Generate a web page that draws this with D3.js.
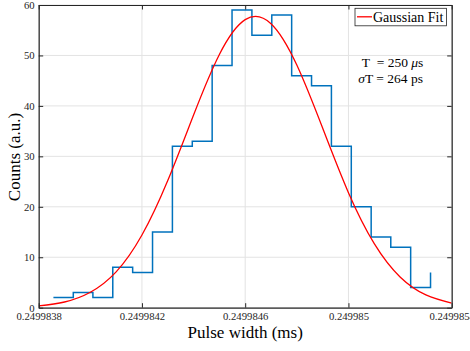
<!DOCTYPE html>
<html>
<head>
<meta charset="utf-8">
<script src="https://cdn.jsdelivr.net/npm/d3@7"></script>
<style>
  body { margin: 0; background: #fff; }
  svg text { font-family: "Liberation Serif", "Times New Roman", serif; }
</style>
</head>
<body>
<div id="my_dataviz"></div>
<script>
// histogram (stairs) points: bin start positions (ms) and counts
const binX = [0.249983857, 0.249983934, 0.249984010, 0.249984087, 0.249984164,
  0.249984241, 0.249984318, 0.249984395, 0.249984472, 0.249984549,
  0.249984626, 0.249984703, 0.249984780, 0.249984857, 0.249984934,
  0.249985011, 0.249985088, 0.249985164, 0.249985241, 0.249985318];
const counts = [2, 3, 2, 8, 7, 15, 32, 33, 48, 59, 54, 58, 46, 44, 32, 20, 14, 12, 4, 7];

// gaussian fit curve
const fitX = [0.2499838, 0.2499839, 0.2499840, 0.2499841, 0.2499842, 0.2499843,
  0.2499844, 0.2499845, 0.2499846, 0.2499847, 0.2499848, 0.2499849,
  0.2499850, 0.2499851, 0.2499852, 0.2499853, 0.2499854];
const fitY = [0.37, 1.13, 3.06, 7.1, 14.4, 25.2, 38.2, 50.2, 57.1, 56.3, 48.1,
  35.6, 22.8, 12.7, 6.1, 2.54, 0.92];

// ticks
const xTicks = [0.2499838, 0.2499842, 0.2499846, 0.2499850, 0.2499854];
const xTickLabels = ["0.2499838", "0.2499842", "0.2499846", "0.249985", "0.2499854"];
const yTicks = [0, 10, 20, 30, 40, 50, 60];

// set the dimensions and margins of the graph
const margin = { top: 5, right: 18.3, bottom: 43.3, left: 38.7 },
  width = 470 - margin.left - margin.right,
  height = 351 - margin.top - margin.bottom;

const serif = '"Liberation Serif", "Times New Roman", serif';

const svg = d3.select("#my_dataviz")
  .append("svg")
  .attr("width", 470)
  .attr("height", 351)
  .attr("font-family", serif)
  .append("g")
  .attr("transform", `translate(${margin.left},${margin.top})`);

const x = d3.scaleLinear().domain([0.2499838, 0.2499854]).range([0, width]);
const y = d3.scaleLinear().domain([0, 60]).range([height, 0]);

// grid
svg.append("g")
  .selectAll("line")
  .data(xTicks)
  .join("line")
  .attr("x1", (d) => x(d)).attr("x2", (d) => x(d))
  .attr("y1", 0).attr("y2", height)
  .attr("stroke", "#e3e3e3").attr("stroke-width", 1);
svg.append("g")
  .selectAll("line")
  .data(yTicks)
  .join("line")
  .attr("x1", 0).attr("x2", width)
  .attr("y1", (d) => y(d)).attr("y2", (d) => y(d))
  .attr("stroke", "#e3e3e3").attr("stroke-width", 1);

svg.append("defs").append("clipPath").attr("id", "clip")
  .append("rect").attr("width", width).attr("height", height);

// stairs
const stairPts = [];
binX.forEach((d, i) => {
  stairPts.push([d, counts[i]]);
  if (i < binX.length - 1) stairPts.push([binX[i + 1], counts[i]]);
});
svg.append("path")
  .datum(stairPts)
  .attr("fill", "none")
  .attr("stroke", "#0072BD")
  .attr("stroke-width", 1.5)
  .attr("d", d3.line().x((d) => x(d[0])).y((d) => y(d[1])));

// fit curve
svg.append("path")
  .datum(fitX.map((d, i) => [d, fitY[i]]))
  .attr("clip-path", "url(#clip)")
  .attr("fill", "none")
  .attr("stroke", "#ff0000")
  .attr("stroke-width", 1.3)
  .attr("d", d3.line().curve(d3.curveNatural).x((d) => x(d[0])).y((d) => y(d[1])));

// axes
const axisColor = "#262626";
const fmtX = (d, i) => xTickLabels[i];
svg.append("g")
  .attr("transform", `translate(0,${height})`)
  .call(d3.axisBottom(x).tickValues(xTicks).tickFormat(fmtX).tickSizeInner(-4.5).tickSizeOuter(0).tickPadding(5));
svg.append("g")
  .call(d3.axisTop(x).tickValues(xTicks).tickFormat("").tickSizeInner(-4.5).tickSizeOuter(0));
svg.append("g")
  .call(d3.axisLeft(y).tickValues(yTicks).tickSizeInner(-4.5).tickSizeOuter(0).tickPadding(4));
svg.append("g")
  .attr("transform", `translate(${width},0)`)
  .call(d3.axisRight(y).tickValues(yTicks).tickFormat("").tickSizeInner(-4.5).tickSizeOuter(0));

svg.selectAll(".domain").attr("stroke", axisColor).attr("stroke-width", 1.2);
svg.selectAll(".tick line").attr("stroke", axisColor);
svg.selectAll(".tick").select("text")
  .attr("font-family", serif)
  .style("font-family", serif)
  .style("font-size", "10.7px")
  .attr("fill", axisColor);
svg.selectAll("g").filter(function () { return this.getAttribute("font-family") === "sans-serif"; })
  .attr("font-family", serif);

// axis labels
svg.append("text")
  .attr("x", width / 2)
  .attr("y", 333)
  .attr("text-anchor", "middle")
  .style("font-size", "17px")
  .attr("fill", "#000")
  .text("Pulse width (ms)");
svg.append("text")
  .attr("transform", `translate(${-19},${152}) rotate(-90)`)
  .attr("text-anchor", "middle")
  .style("font-size", "17px")
  .attr("fill", "#000")
  .text("Counts (a.u.)");

// legend
const lg = svg.append("g").attr("transform", `translate(${355 - margin.left},${8.3 - margin.top})`);
lg.append("rect")
  .attr("width", 91.5).attr("height", 17.5)
  .attr("fill", "#fff").attr("stroke", "#262626").attr("stroke-width", 0.8);
lg.append("line")
  .attr("x1", 2).attr("x2", 17).attr("y1", 8.5).attr("y2", 8.5)
  .attr("stroke", "#ff0000").attr("stroke-width", 1.3);
lg.append("text")
  .attr("x", 18).attr("y", 13.5)
  .style("font-size", "14px")
  .attr("fill", "#000")
  .text("Gaussian Fit");

// annotation
const ann = svg.append("g").attr("transform", `translate(${-margin.left},${-margin.top})`);
ann.append("text")
  .attr("x", 361.7).attr("y", 67)
  .style("font-size", "13.5px")
  .attr("fill", "#000")
  .html('T&#160;&#160;= 250 <tspan font-style="italic">μ</tspan>s');
ann.append("text")
  .attr("x", 358.3).attr("y", 83)
  .style("font-size", "13.5px")
  .attr("fill", "#000")
  .html('<tspan font-style="italic">σ</tspan>T = 264 ps');
</script>
</body>
</html>
